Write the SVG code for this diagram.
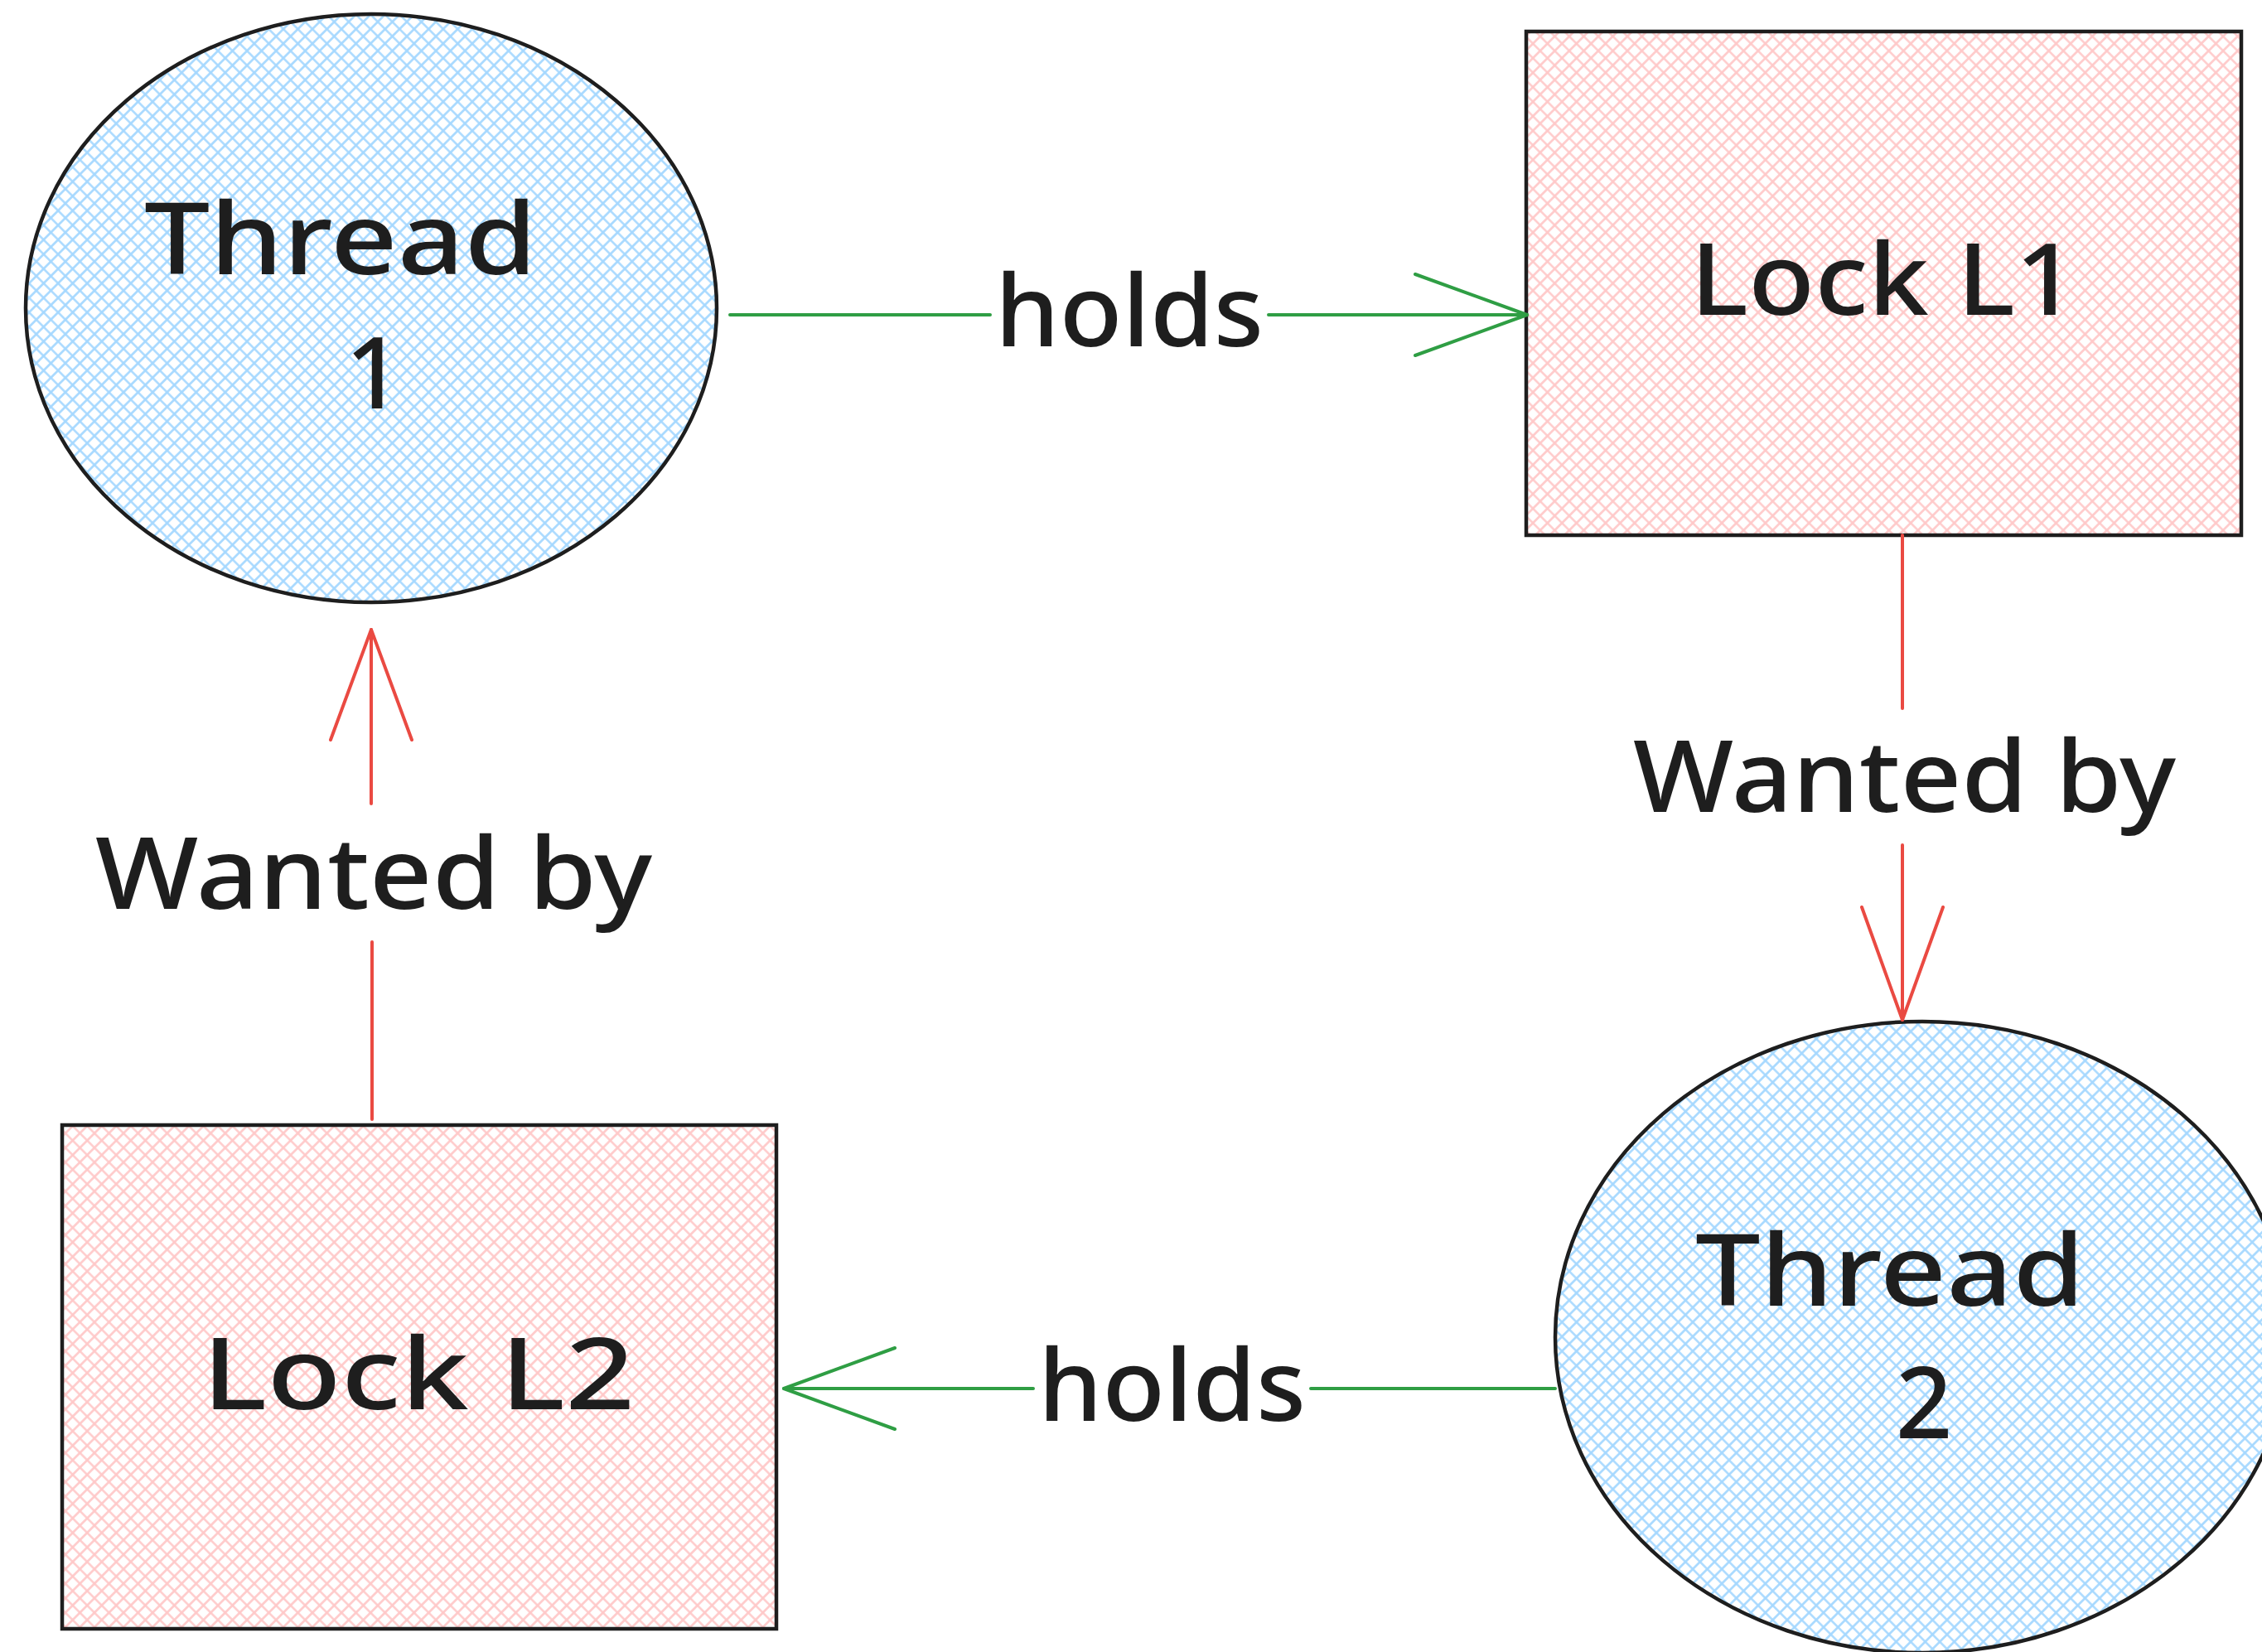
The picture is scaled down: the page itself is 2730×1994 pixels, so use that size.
<svg xmlns="http://www.w3.org/2000/svg" width="2730" height="1994" viewBox="0 0 2730 1994">
  <style>
    .outline { stroke: #1e1e1e; stroke-width: 4.5; }
    .thread { fill: url(#hatchBlue); }
    .lock { fill: url(#hatchRed); }
    .label { font-family: "Noto Sans", "DejaVu Sans", sans-serif; font-weight: 500; font-size: 120px; fill: #1e1e1e; }
    .holds { stroke: #2f9e44; stroke-width: 4; fill: none; stroke-linecap: round; stroke-linejoin: round; }
    .wants { stroke: #ea4a42; stroke-width: 4; fill: none; stroke-linecap: round; stroke-linejoin: round; }
  </style>
  <defs>
    <!-- cross-hatch fills -->
    <pattern id="hatchBlue" patternUnits="userSpaceOnUse" width="12.4" height="12.4" patternTransform="rotate(45)">
      <path d="M0 6.2H12.4M6.2 0V12.4" stroke="#a5d8ff" stroke-width="2.6"/>
    </pattern>
    <pattern id="hatchRed" patternUnits="userSpaceOnUse" width="12.4" height="12.4" patternTransform="rotate(45)">
      <path d="M0 6.2H12.4M6.2 0V12.4" stroke="#ffc9c9" stroke-width="2.6"/>
    </pattern>
  </defs>

  <rect width="2730" height="1994" fill="#ffffff"/>

  <!-- nodes -->
  <g id="thread1">
    <ellipse class="thread" cx="448" cy="372" rx="417" ry="355"/>
    <ellipse class="outline" fill="none" cx="448" cy="372" rx="417" ry="355"/>
    <text class="label" x="174" y="331" textLength="474" lengthAdjust="spacingAndGlyphs">Thread</text>
    <text class="label" x="451" y="493" text-anchor="middle">1</text>
  </g>

  <g id="lockL1">
    <rect class="lock" x="1842" y="38" width="863" height="608"/>
    <rect class="outline" fill="none" x="1842" y="38" width="863" height="608"/>
    <text class="label" x="2040" y="380" textLength="467" lengthAdjust="spacingAndGlyphs">Lock L1</text>
  </g>

  <g id="thread2">
    <ellipse class="thread" cx="2320" cy="1614" rx="443" ry="381"/>
    <ellipse class="outline" fill="none" cx="2320" cy="1614" rx="443" ry="381"/>
    <text class="label" x="2046" y="1576" textLength="470" lengthAdjust="spacingAndGlyphs">Thread</text>
    <text class="label" x="2322" y="1736" text-anchor="middle">2</text>
  </g>

  <g id="lockL2">
    <rect class="lock" x="75" y="1358" width="862" height="608"/>
    <rect class="outline" fill="none" x="75" y="1358" width="862" height="608"/>
    <text class="label" x="244" y="1701" textLength="522" lengthAdjust="spacingAndGlyphs">Lock L2</text>
  </g>

  <!-- connectors -->
  <g id="connectors">
    <!-- Thread 1 holds Lock L1 -->
    <g id="t1-holds-l1">
      <path class="holds" d="M881 380H1195M1531 380H1843"/>
      <path class="holds" d="M1708 331L1843 380L1708 429"/>
      <text class="label" x="1201" y="418" textLength="324" lengthAdjust="spacingAndGlyphs">holds</text>
    </g>
    <!-- Lock L1 wanted by Thread 2 -->
    <g id="l1-wanted-t2">
      <path class="wants" d="M2296 646V855M2296 1020V1231"/>
      <path class="wants" d="M2247 1095L2296 1231L2345 1095"/>
      <text class="label" x="1971" y="980" textLength="655" lengthAdjust="spacingAndGlyphs">Wanted by</text>
    </g>
    <!-- Thread 2 holds Lock L2 -->
    <g id="t2-holds-l2">
      <path class="holds" d="M1877 1676H1582M1247 1676H946"/>
      <path class="holds" d="M1080 1627L946 1676L1080 1725"/>
      <text class="label" x="1253" y="1715" textLength="323" lengthAdjust="spacingAndGlyphs">holds</text>
    </g>
    <!-- Lock L2 wanted by Thread 1 -->
    <g id="l2-wanted-t1">
      <path class="wants" d="M449 1351V1137M448 970V760"/>
      <path class="wants" d="M399 893L448 760L497 893"/>
      <text class="label" x="115" y="1097" textLength="672" lengthAdjust="spacingAndGlyphs">Wanted by</text>
    </g>
  </g>
</svg>
